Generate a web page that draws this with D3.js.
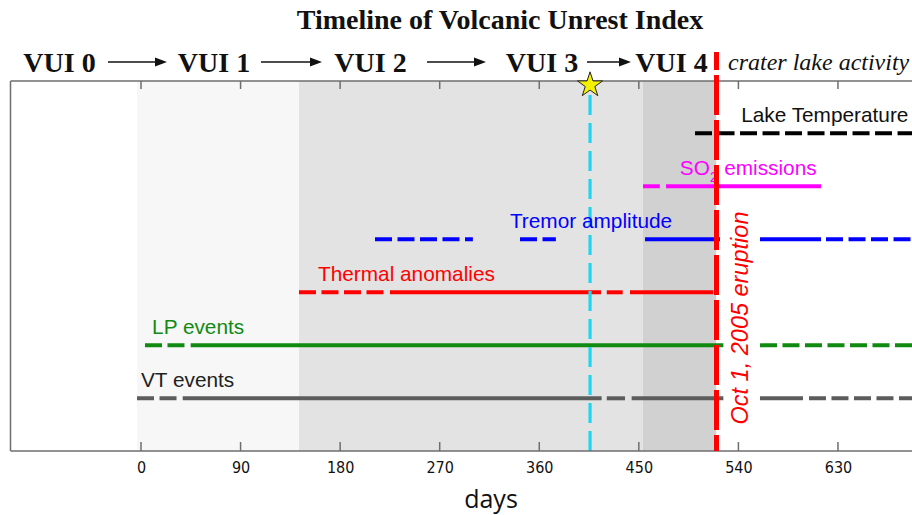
<!DOCTYPE html>
<html>
<head>
<meta charset="utf-8">
<script src="https://cdn.jsdelivr.net/npm/d3@7"></script>
<style>
  body { margin: 0; background: #fff; }
  svg { display: block; }
</style>
</head>
<body>
<svg id="chart" width="912" height="515"></svg>
<script>
// ---------------- DATA ----------------
const title = "Timeline of Volcanic Unrest Index";
const xTicks = [0, 90, 180, 270, 360, 450, 540, 630];
const xLabel = "days";

// VUI phase shading (days)
const phaseStarts = [-118, -3.6, 142.8, 453.5, 520.2];
const phaseEnds   = [-3.6, 142.8, 453.5, 520.2, 720];
const phaseFills  = ["#ffffff", "#f7f7f7", "#e3e3e3", "#d1d1d1", "#ffffff"];

const vuiLabels = ["VUI 0", "VUI 1", "VUI 2", "VUI 3", "VUI 4"];
const craterLabel = "crater lake activity";

const eruptionDay = 520.2;
const eruptionLabel = "Oct 1, 2005 eruption";
const starDay = 405.9;

// Observation series, top to bottom
const seriesNames = ["Lake Temperature", "SO2 emissions", "Tremor amplitude",
                     "Thermal anomalies", "LP events", "VT events"];
// segments: [startDay, endDay, dashed?]
const lakeSegments    = [[500.8, 720, true]];
const so2Segments     = [[453.8, 469.0, false], [474.6, 614.7, false]];
const tremorSegments  = [[211.5, 300.0, true], [342.6, 375.0, true], [455.6, 523.4, false],
                         [559.5, 614.7, false], [619.2, 720, true]];
const thermalSegments = [[142.8, 219.6, true], [225.0, 415.8, false], [421.0, 435.4, false],
                         [442.0, 517.3, false]];
const lpSegments      = [[3.6, 40.7, true], [44.9, 526.4, false], [559.5, 720, true]];
const vtSegments      = [[-3.6, 32.5, true], [37.7, 416.4, false], [421.0, 437.5, false],
                         [443.5, 526.4, false], [559.5, 598.4, false], [603.8, 720, true]];
const seriesSegments = [lakeSegments, so2Segments, tremorSegments, thermalSegments, lpSegments, vtSegments];
const seriesColors = ["#000000", "#ff00ff", "#0000ff", "#ff0000", "#118a11", "#5c5c5c"];
const labelColors  = ["#111111", "#ff00ff", "#0000ff", "#ff0000", "#118a11", "#222222"];
const labelDays    = [542.5, 487.0, 333.5, 160.0, 10.0, 0.0];

// ---------------- LAYOUT ----------------
const svg = d3.select("#chart");
const plotTop = 81, plotBottom = 451, plotLeft = 10.5;
const pxPerDay = 1.1063;
const x = d3.scaleLinear().domain([-118, 720]).range([141 - 118 * pxPerDay, 141 + 720 * pxPerDay]);
const y = d3.scalePoint().domain(seriesNames).range([133.3, 398.3]);

const sans = "'Liberation Sans', Arial, sans-serif";
const serif = "'Liberation Serif', 'Times New Roman', serif";

// clip
svg.append("defs").append("clipPath").attr("id", "plotclip")
  .append("rect").attr("x", plotLeft).attr("y", plotTop).attr("width", 912 - plotLeft).attr("height", plotBottom - plotTop);

const plot = svg.append("g").attr("clip-path", "url(#plotclip)");

// phases
plot.selectAll("rect.phase").data(phaseStarts).join("rect")
  .attr("class", "phase")
  .attr("x", (d) => x(d))
  .attr("width", (d, i) => x(phaseEnds[i]) - x(d))
  .attr("y", plotTop).attr("height", plotBottom - plotTop)
  .attr("fill", (d, i) => phaseFills[i]);

// series lines
seriesNames.forEach((name, si) => {
  const g = plot.append("g");
  g.selectAll("line").data(seriesSegments[si]).join("line")
    .attr("x1", (d) => x(d[0])).attr("x2", (d) => x(d[1]))
    .attr("y1", y(name)).attr("y2", y(name))
    .attr("stroke", seriesColors[si])
    .attr("stroke-width", 4)
    .attr("stroke-dasharray", (d) => d[2] ? "17,5.5" : null);
});

// cyan dashed vertical
plot.append("line")
  .attr("x1", x(starDay)).attr("x2", x(starDay))
  .attr("y1", 95).attr("y2", plotBottom)
  .attr("stroke", "#1ed6f2").attr("stroke-width", 3.2)
  .attr("stroke-dasharray", "20,8");

// series labels
seriesNames.forEach((name, si) => {
  const t = svg.append("text")
    .attr("x", x(labelDays[si]))
    .attr("y", y(name) - 11)
    .attr("fill", labelColors[si])
    .attr("font-family", sans)
    .attr("font-size", 20.8);
  if (name === "SO2 emissions") {
    t.append("tspan").text("SO");
    t.append("tspan").attr("font-size", 15).attr("dy", 7).text("2");
    t.append("tspan").attr("dy", -7).attr("dx", 6).text("emissions");
  } else {
    t.text(name);
  }
});

// frame
svg.append("line").attr("x1", plotLeft).attr("x2", 912).attr("y1", plotTop).attr("y2", plotTop)
  .attr("stroke", "#6e6e6e").attr("stroke-width", 1.5);
svg.append("line").attr("x1", plotLeft).attr("x2", 912).attr("y1", plotBottom).attr("y2", plotBottom)
  .attr("stroke", "#6e6e6e").attr("stroke-width", 1.5);
svg.append("line").attr("x1", plotLeft).attr("x2", plotLeft).attr("y1", plotTop).attr("y2", plotBottom)
  .attr("stroke", "#6e6e6e").attr("stroke-width", 1.5);

// axes (ticks inward)
const bottomAxis = d3.axisBottom(x).tickValues(xTicks).tickSize(0).tickPadding(0);
const axG = svg.append("g").attr("transform", `translate(0,${plotBottom})`).call(bottomAxis);
axG.select(".domain").remove();
axG.selectAll(".tick text")
  .attr("y", 21.5).attr("dy", 0)
  .attr("font-family", "'Liberation Sans Narrow', 'DejaVu Sans Condensed', sans-serif")
  .attr("font-size", 16).attr("fill", "#111");
svg.selectAll("line.tickb").data(xTicks).join("line").attr("class", "tickb")
  .attr("x1", (d) => x(d)).attr("x2", (d) => x(d))
  .attr("y1", plotBottom).attr("y2", plotBottom - 9)
  .attr("stroke", "#6e6e6e").attr("stroke-width", 1.5);
svg.selectAll("line.tickt").data(xTicks).join("line").attr("class", "tickt")
  .attr("x1", (d) => x(d)).attr("x2", (d) => x(d))
  .attr("y1", plotTop).attr("y2", plotTop + 8)
  .attr("stroke", "#6e6e6e").attr("stroke-width", 1.5);

svg.append("text").attr("x", 491).attr("y", 508).attr("text-anchor", "middle")
  .attr("font-family", "'Open Sans', 'Liberation Sans', sans-serif").attr("font-size", 25)
  .attr("fill", "#111").text(xLabel);

// eruption line
svg.append("line")
  .attr("x1", x(eruptionDay)).attr("x2", x(eruptionDay))
  .attr("y1", 52).attr("y2", plotBottom)
  .attr("stroke", "#ff0000").attr("stroke-width", 5)
  .attr("stroke-dasharray", "40,5").attr("stroke-dashoffset", 22);

svg.append("text")
  .attr("transform", `translate(${x(eruptionDay) + 31.5},318) rotate(-90)`)
  .attr("text-anchor", "middle")
  .attr("font-family", sans).attr("font-style", "italic").attr("font-size", 23.5)
  .attr("fill", "#ff0000").text(eruptionLabel);

// star
svg.append("path")
  .attr("d", d3.symbol(d3.symbolStar, 195)())
  .attr("transform", `translate(${x(starDay)},85)`)
  .attr("fill", "#f5f200").attr("stroke", "#222").attr("stroke-width", 1);

// title
svg.append("text").attr("x", 500).attr("y", 29).attr("text-anchor", "middle")
  .attr("font-family", serif).attr("font-weight", "bold").attr("font-size", 28)
  .attr("fill", "#111").text(title);

// VUI labels and arrows
const vuiX = [59.5, 214, 370.5, 542, 671.5];
svg.selectAll("text.vui").data(vuiLabels).join("text").attr("class", "vui")
  .attr("x", (d, i) => vuiX[i]).attr("y", 72.3).attr("text-anchor", "middle")
  .attr("font-family", serif).attr("font-weight", "bold").attr("font-size", 28)
  .attr("fill", "#111").text((d) => d);

const arrows = [[108, 167], [261, 322], [427, 486], [587, 631]];
arrows.forEach(([a, b]) => {
  svg.append("line").attr("x1", a).attr("x2", b - 8).attr("y1", 62).attr("y2", 62)
    .attr("stroke", "#111").attr("stroke-width", 1.6);
  svg.append("path").attr("d", `M${b},62 L${b - 12},57.5 L${b - 12},66.5 Z`).attr("fill", "#111");
});

svg.append("text").attr("x", 728).attr("y", 69.5)
  .attr("font-family", serif).attr("font-style", "italic").attr("font-size", 24)
  .attr("fill", "#111").text(craterLabel);
</script>
</body>
</html>
